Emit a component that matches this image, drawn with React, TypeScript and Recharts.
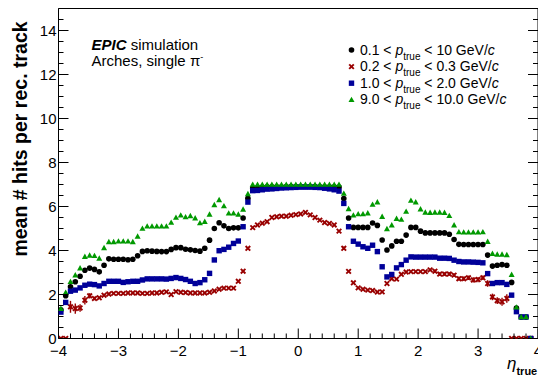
import React from 'react';
import { ScatterChart, Scatter, XAxis, YAxis, ReferenceLine } from 'recharts';

// bin centres in eta_true
const etaBins = [
  -3.96, -3.88, -3.8, -3.72, -3.64, -3.56, -3.48, -3.4, -3.32, -3.24,
  -3.16, -3.08, -3.0, -2.92, -2.84, -2.76, -2.68, -2.6, -2.52, -2.44,
  -2.36, -2.28, -2.2, -2.12, -2.04, -1.96, -1.88, -1.8, -1.72, -1.64,
  -1.56, -1.48, -1.4, -1.32, -1.24, -1.16, -1.08, -1.0, -0.92, -0.84,
  -0.76, -0.68, -0.6, -0.52, -0.44, -0.36, -0.28, -0.2, -0.12, -0.04,
  0.04, 0.12, 0.2, 0.28, 0.36, 0.44, 0.52, 0.6, 0.68, 0.76,
  0.84, 0.92, 1.0, 1.08, 1.16, 1.24, 1.32, 1.4, 1.48, 1.56,
  1.64, 1.72, 1.8, 1.88, 1.96, 2.04, 2.12, 2.2, 2.28, 2.36,
  2.44, 2.52, 2.6, 2.68, 2.76, 2.84, 2.92, 3.0, 3.08, 3.16,
  3.24, 3.32, 3.4, 3.48, 3.56, 3.64, 3.72, 3.8, 3.88, 3.96,
];

// 0.1 < p < 10 GeV/c
const hitsAll = [
  1.3, 1.94, 2.35, 2.58, 2.83, 3.1, 3.2, 3.14, 3.03, 3.33,
  3.62, 3.6, 3.6, 3.6, 3.58, 3.6, 3.76, 3.96, 3.99, 3.97,
  3.96, 3.95, 3.95, 4.05, 4.13, 4.13, 4.06, 4.03, 4.0, 3.97,
  4.1, 4.47, 5.0, 5.26, 5.12, 5.0, 5.03, 5.03, 5.48, 6.37,
  6.84, 6.86, 6.88, 6.89, 6.9, 6.9, 6.9, 6.91, 6.91, 6.91,
  6.91, 6.91, 6.91, 6.91, 6.9, 6.9, 6.9, 6.89, 6.88, 6.36,
  5.48, 5.05, 5.05, 5.05, 5.05, 5.25, 5.14, 4.48, 4.02, 4.21,
  4.42, 4.42, 4.7, 5.05, 5.05, 4.88, 4.8, 4.8, 4.8, 4.8,
  4.8, 4.74, 4.5, 4.28, 4.27, 4.27, 4.27, 4.27, 4.27, 3.79,
  3.29, 3.33, 3.36, 3.33, 2.55, 1.38, 0.98, 0.98, 0, null,
];

// 0.2 < p < 0.3 GeV/c
const hitsLow = [
  0, 0, 1.44, 1.36, 1.39, 1.74, 1.94, 1.82, 1.85, 1.97,
  2.02, 2.05, 2.05, 2.05, 2.07, 2.07, 2.07, 2.05, 2.05, 2.07,
  2.07, 2.1, 2.12, 2.0, 2.13, 2.1, 2.09, 2.07, 2.07, 2.07,
  2.07, 2.1, 2.16, 2.24, 2.29, 2.29, 2.29, 2.6, 3.06, 4.1,
  5.04, 5.16, 5.24, 5.31, 5.5, 5.53, 5.56, 5.56, 5.6, 5.63,
  5.66, 5.73, 5.62, 5.5, 5.38, 5.27, 5.23, 5.16, 4.88, 4.1,
  3.05, 2.53, 2.3, 2.24, 2.2, 2.18, 2.11, 2.12, 2.5, 2.72,
  2.7, 2.92, 3.02, 3.04, 3.04, 3.04, 3.04, 3.12, 3.06, 2.93,
  2.93, 2.93, 2.88, 2.72, 2.72, 2.76, 2.66, 2.68, 2.76, 2.5,
  1.89, 1.72, 1.67, 1.82, 0, 0, 0, 0, 0, null,
];

// statistical uncertainty of the 0.2 < p < 0.3 GeV/c profile
const hitsLowErr = [
  0, 0, 0.27, 0.23, 0.17, 0.19, 0.12, 0.08, 0.06, 0.05,
  0.05, 0.05, 0.05, 0.05, 0.05, 0.05, 0.05, 0.05, 0.05, 0.05,
  0.05, 0.05, 0.05, 0.05, 0.05, 0.05, 0.05, 0.05, 0.05, 0.05,
  0.05, 0.05, 0.05, 0.05, 0.05, 0.05, 0.05, 0.05, 0.05, 0.06,
  0.05, 0.05, 0.05, 0.05, 0.05, 0.05, 0.05, 0.05, 0.05, 0.05,
  0.05, 0.05, 0.05, 0.05, 0.05, 0.05, 0.05, 0.05, 0.05, 0.08,
  0.06, 0.05, 0.05, 0.05, 0.05, 0.05, 0.05, 0.05, 0.07, 0.07,
  0.07, 0.07, 0.07, 0.07, 0.07, 0.07, 0.07, 0.07, 0.08, 0.08,
  0.08, 0.08, 0.09, 0.1, 0.1, 0.1, 0.12, 0.12, 0.1, 0.15,
  0.15, 0.15, 0.18, 0.19, 0, 0, 0, 0, 0, 0,
];

// 1.0 < p < 2.0 GeV/c
const hitsMid = [
  1.2, 1.64, 2.15, 2.2, 2.3, 2.42, 2.47, 2.45, 2.39, 2.5,
  2.6, 2.6, 2.6, 2.55, 2.58, 2.6, 2.6, 2.66, 2.71, 2.71,
  2.71, 2.71, 2.7, 2.73, 2.77, 2.73, 2.68, 2.6, 2.5, 2.54,
  2.67, 2.96, 3.57, 3.99, 4.05, 4.15, 4.32, 4.43, 5.08, 6.2,
  6.72, 6.73, 6.76, 6.79, 6.8, 6.82, 6.84, 6.85, 6.86, 6.87,
  6.88, 6.88, 6.88, 6.87, 6.86, 6.83, 6.8, 6.76, 6.7, 6.14,
  5.08, 4.42, 4.29, 4.17, 4.1, 4.24, 3.95, 3.26, 2.8, 2.91,
  3.21, 3.36, 3.56, 3.71, 3.7, 3.7, 3.7, 3.7, 3.7, 3.65,
  3.65, 3.64, 3.56, 3.5, 3.48, 3.48, 3.47, 3.46, 3.44, 2.95,
  2.5, 2.54, 2.54, 2.46, 1.97, 1.22, 0.98, 0.98, 0, null,
];

// 9.0 < p < 10.0 GeV/c
const hitsHigh = [
  1.36, 2.09, 2.58, 2.88, 3.2, 3.72, 3.78, 3.76, 3.64, 4.12,
  4.39, 4.39, 4.42, 4.42, 4.42, 4.39, 4.64, 5.0, 5.1, 5.1,
  5.1, 5.1, 5.1, 5.27, 5.5, 5.6, 5.52, 5.57, 5.47, 5.25,
  5.31, 5.64, 6.07, 6.3, 6.02, 5.69, 5.69, 5.64, 5.87, 6.57,
  7.0, 7.0, 7.0, 7.0, 7.0, 7.0, 7.0, 7.0, 7.0, 7.0,
  7.0, 7.0, 7.0, 7.0, 7.0, 7.0, 7.0, 7.0, 7.0, 6.59,
  5.89, 5.6, 5.66, 5.66, 5.7, 6.09, 6.2, 5.54, 4.98, 5.15,
  5.45, 5.41, 5.77, 6.27, 6.2, 5.88, 5.73, 5.72, 5.73, 5.73,
  5.72, 5.58, 5.15, 4.84, 4.83, 4.83, 4.83, 4.83, 4.84, 4.4,
  3.86, 3.82, 3.82, 3.8, 2.9, 1.42, 0.98, 0.98, 0, null,
];

const xTicks = [
  -4, -3.8, -3.6, -3.4, -3.2, -3, -2.8, -2.6, -2.4, -2.2,
  -2, -1.8, -1.6, -1.4, -1.2, -1, -0.8, -0.6, -0.4, -0.2,
  0, 0.2, 0.4, 0.6, 0.8, 1, 1.2, 1.4, 1.6, 1.8,
  2, 2.2, 2.4, 2.6, 2.8, 3, 3.2, 3.4, 3.6, 3.8, 4,
];
const xMajorTicks = [-4, -3, -2, -1, 0, 1, 2, 3, 4];
const yTicks = [
  0, 0.5, 1, 1.5, 2, 2.5, 3, 3.5, 4, 4.5, 5, 5.5, 6, 6.5, 7, 7.5,
  8, 8.5, 9, 9.5, 10, 10.5, 11, 11.5, 12, 12.5, 13, 13.5, 14, 14.5, 15,
];
const yMajorTicks = [0, 2, 4, 6, 8, 10, 12, 14];

const legendLabels = [
  { lo: '0.1', hi: '10' },
  { lo: '0.2', hi: '0.3' },
  { lo: '1.0', hi: '2.0' },
  { lo: '9.0', hi: '10.0' },
];

const COLORS = {
  all: '#000000',
  low: '#990000',
  mid: '#000099',
  high: '#009900',
};

const FONT = '"Liberation Sans", Arial, Helvetica, sans-serif';

type Row = { eta: number; v: number };
const buildSeries = (vals: (number | null)[]): Row[] =>
  etaBins
    .map((eta, i) => ({ eta, v: vals[i] as number }))
    .filter((d) => d.v !== null && d.v !== undefined);

const dataAll = buildSeries(hitsAll);
const dataLow = buildSeries(hitsLow);
const dataMid = buildSeries(hitsMid);
const dataHigh = buildSeries(hitsHigh);

// visible red error bars (one segment per bin, in data coordinates)
const lowErrorBars = etaBins
  .map((eta, i) => ({ eta, v: hitsLow[i], e: hitsLowErr[i] }))
  .filter((d) => d.v !== null && d.e >= 0.08)
  .map((d) => ({ eta: d.eta, lo: (d.v as number) - d.e, hi: (d.v as number) + d.e }));

// marker shapes
const Circle = ({ cx, cy }: any) => <circle cx={cx} cy={cy} r={2.8} fill={COLORS.all} />;
const Square = ({ cx, cy }: any) => (
  <rect x={cx - 2.7} y={cy - 2.7} width={5.4} height={5.4} fill={COLORS.mid} />
);
const Triangle = ({ cx, cy }: any) => (
  <polygon points={`${cx},${cy - 3.1} ${cx + 3},${cy + 2.3} ${cx - 3},${cy + 2.3}`} fill={COLORS.high} />
);
const Cross = ({ cx, cy }: any) => (
  <g stroke={COLORS.low} strokeWidth={1.9}>
    <line x1={cx - 2.3} y1={cy - 2.3} x2={cx + 2.3} y2={cy + 2.3} />
    <line x1={cx - 2.3} y1={cy + 2.3} x2={cx + 2.3} y2={cy - 2.3} />
  </g>
);

const isMajorX = (v: number) => xMajorTicks.some((m) => Math.abs(m - v) < 1e-6);
const isMajorY = (v: number) => yMajorTicks.some((m) => Math.abs(m - v) < 1e-6);
const fmt = (v: number) => (v < 0 ? '\u2212' + String(-v) : String(v));

const BottomTick = ({ x, y, payload }: any) => {
  const major = isMajorX(payload.value);
  return (
    <g>
      <line x1={x} x2={x} y1={y} y2={y - (major ? 10 : 5)} stroke="#000" strokeWidth={1} />
      {major && (
        <text x={x} y={y + 17} textAnchor="middle" fontSize={15} fontFamily={FONT} fill="#000">
          {fmt(payload.value)}
        </text>
      )}
    </g>
  );
};
const TopTick = ({ x, y, payload }: any) => {
  const major = isMajorX(payload.value);
  return <line x1={x} x2={x} y1={y} y2={y + (major ? 10 : 5)} stroke="#000" strokeWidth={1} />;
};
const LeftTick = ({ x, y, payload }: any) => {
  const major = isMajorY(payload.value);
  return (
    <g>
      <line x1={x} x2={x + (major ? 10 : 5)} y1={y} y2={y} stroke="#000" strokeWidth={1} />
      {major && (
        <text x={x - 2} y={y + 5.3} textAnchor="end" fontSize={15} fontFamily={FONT} fill="#000">
          {fmt(payload.value)}
        </text>
      )}
    </g>
  );
};
const RightTick = ({ x, y, payload }: any) => {
  const major = isMajorY(payload.value);
  return <line x1={x} x2={x - (major ? 10 : 5)} y1={y} y2={y} stroke="#000" strokeWidth={1} />;
};

const legendMarkers = [Circle, Cross, Square, Triangle];

export default function App() {
  return (
    <div style={{ position: 'absolute', left: 0, top: 0, width: 538, height: 377, background: '#fff' }}>
      <ScatterChart width={538} height={377} margin={{ top: 7.5, right: -1, bottom: 37.5, left: 57.5 }}>
        <XAxis
          dataKey="eta"
          type="number"
          domain={[-4, 4]}
          allowDataOverflow
          ticks={xTicks}
          interval={0}
          height={1}
          tickSize={0}
          tickMargin={0}
          tickLine={false}
          axisLine={{ stroke: '#000', strokeWidth: 1 }}
          tick={<BottomTick />}
        />
        <XAxis
          xAxisId="t"
          orientation="top"
          type="number"
          domain={[-4, 4]}
          allowDataOverflow
          ticks={xTicks}
          interval={0}
          height={1}
          tickSize={0}
          tickMargin={0}
          tickLine={false}
          axisLine={{ stroke: '#000', strokeWidth: 1 }}
          tick={<TopTick />}
        />
        <YAxis
          dataKey="v"
          type="number"
          domain={[0, 15]}
          allowDataOverflow
          ticks={yTicks}
          interval={0}
          width={1}
          tickSize={0}
          tickMargin={0}
          tickLine={false}
          axisLine={{ stroke: '#000', strokeWidth: 1 }}
          tick={<LeftTick />}
        />
        <YAxis
          yAxisId="r"
          orientation="right"
          type="number"
          domain={[0, 15]}
          allowDataOverflow
          ticks={yTicks}
          interval={0}
          width={1}
          tickSize={0}
          tickMargin={0}
          tickLine={false}
          axisLine={{ stroke: '#000', strokeWidth: 1 }}
          tick={<RightTick />}
        />
        {lowErrorBars.map((b, k) => (
          <ReferenceLine
            key={'err' + k}
            segment={[
              { x: b.eta, y: b.lo },
              { x: b.eta, y: b.hi },
            ]}
            stroke={COLORS.low}
            strokeWidth={1.4}
            ifOverflow="visible"
          />
        ))}
        <Scatter data={dataAll} shape={<Circle />} isAnimationActive={false} />
        <Scatter data={dataLow} shape={<Cross />} isAnimationActive={false} />
        <Scatter data={dataMid} shape={<Square />} isAnimationActive={false} />
        <Scatter data={dataHigh} shape={<Triangle />} isAnimationActive={false} />
      </ScatterChart>
      <svg
        width={538}
        height={377}
        style={{ position: 'absolute', left: 0, top: 0, pointerEvents: 'none' }}
        fontFamily={FONT}
      >
        <text transform="rotate(-90)" x={-139} y={27} textAnchor="middle" fontWeight="bold" fontSize={19.5} fill="#000">
          mean # hits per rec. track
        </text>
        <text x={91.5} y={49.5} fontSize={15} fill="#000">
          <tspan fontWeight="bold" fontStyle="italic">EPIC</tspan>
          <tspan> simulation</tspan>
        </text>
        <text x={91.5} y={65.5} fontSize={15} fill="#000">
          <tspan>Arches, single π</tspan>
          <tspan fontSize={9} dy={-6}>-</tspan>
        </text>
        {legendLabels.map((l, i) => {
          const base = 54.5 + i * 16.6;
          const M = legendMarkers[i];
          return (
            <g key={i}>
              <M cx={351.5} cy={base - 4.5} />
              <text x={360} y={base} fontSize={14} fill="#000">
                <tspan>{l.lo + ' < '}</tspan>
                <tspan fontStyle="italic">p</tspan>
                <tspan fontSize={10} dy={5}>true</tspan>
                <tspan dy={-5}>{' < ' + l.hi + ' GeV/'}</tspan>
                <tspan fontStyle="italic">c</tspan>
              </text>
            </g>
          );
        })}
        <text x={507} y={369} fontSize={17} fill="#000">
          <tspan fontStyle="italic">η</tspan>
          <tspan fontSize={11} fontWeight="bold" dy={6}>true</tspan>
        </text>
      </svg>
    </div>
  );
}
